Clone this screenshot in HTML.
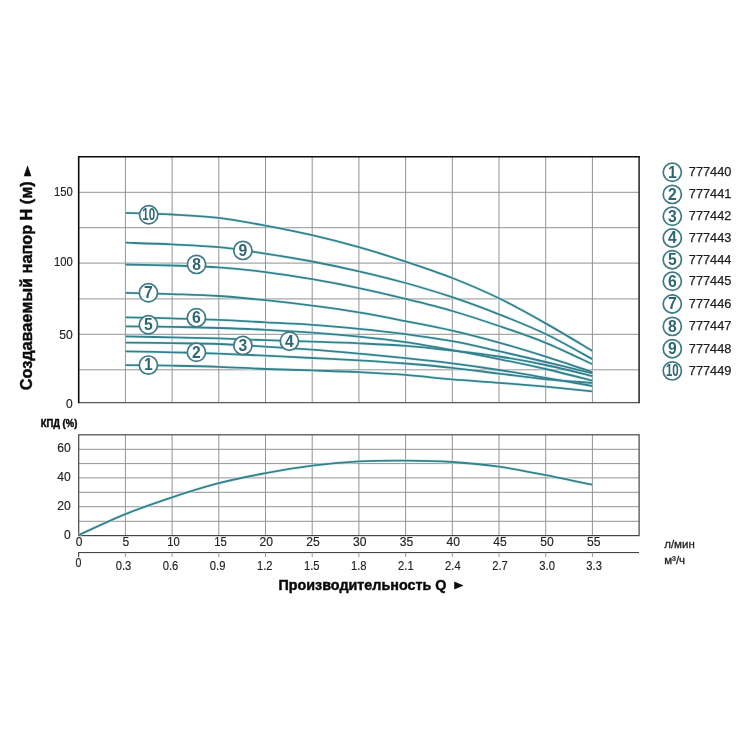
<!DOCTYPE html>
<html lang="ru"><head><meta charset="utf-8"><title>График</title>
<style>html,body{margin:0;padding:0;background:#fff}svg{display:block}text{font-family:"Liberation Sans",Arial,sans-serif;fill:#2a2a2a}.b{font-weight:bold;fill:#0a0a0a;stroke:#0a0a0a;stroke-width:.45px;stroke-linejoin:round}.c{font-weight:bold;fill:#2c6672;font-size:15.7px;text-anchor:middle}.n{font-size:12.5px;fill:#222;stroke:#222;stroke-width:.15px}.r{font-size:11.5px;stroke-width:.3px}.l{font-size:13.5px;fill:#1c1c1c;stroke:#1c1c1c;stroke-width:.25px}</style></head><body>
<svg width="750" height="750" viewBox="0 0 750 750">
<rect width="750" height="750" fill="#fff"/>
<g stroke="#939393" stroke-width="1" fill="none">
<line x1="125.4" y1="156.8" x2="125.4" y2="402.6"/>
<line x1="125.4" y1="434.8" x2="125.4" y2="535.6"/>
<line x1="172.1" y1="156.8" x2="172.1" y2="402.6"/>
<line x1="172.1" y1="434.8" x2="172.1" y2="535.6"/>
<line x1="218.8" y1="156.8" x2="218.8" y2="402.6"/>
<line x1="218.8" y1="434.8" x2="218.8" y2="535.6"/>
<line x1="265.5" y1="156.8" x2="265.5" y2="402.6"/>
<line x1="265.5" y1="434.8" x2="265.5" y2="535.6"/>
<line x1="312.2" y1="156.8" x2="312.2" y2="402.6"/>
<line x1="312.2" y1="434.8" x2="312.2" y2="535.6"/>
<line x1="358.9" y1="156.8" x2="358.9" y2="402.6"/>
<line x1="358.9" y1="434.8" x2="358.9" y2="535.6"/>
<line x1="405.6" y1="156.8" x2="405.6" y2="402.6"/>
<line x1="405.6" y1="434.8" x2="405.6" y2="535.6"/>
<line x1="452.3" y1="156.8" x2="452.3" y2="402.6"/>
<line x1="452.3" y1="434.8" x2="452.3" y2="535.6"/>
<line x1="499.0" y1="156.8" x2="499.0" y2="402.6"/>
<line x1="499.0" y1="434.8" x2="499.0" y2="535.6"/>
<line x1="545.7" y1="156.8" x2="545.7" y2="402.6"/>
<line x1="545.7" y1="434.8" x2="545.7" y2="535.6"/>
<line x1="592.4" y1="156.8" x2="592.4" y2="402.6"/>
<line x1="592.4" y1="434.8" x2="592.4" y2="535.6"/>
<line x1="78.7" y1="192.3" x2="639.1" y2="192.3"/>
<line x1="78.7" y1="227.7" x2="639.1" y2="227.7"/>
<line x1="78.7" y1="263.1" x2="639.1" y2="263.1"/>
<line x1="78.7" y1="298.9" x2="639.1" y2="298.9"/>
<line x1="78.7" y1="334.3" x2="639.1" y2="334.3"/>
<line x1="78.7" y1="369.8" x2="639.1" y2="369.8"/>
<line x1="78.7" y1="449.3" x2="639.1" y2="449.3"/>
<line x1="78.7" y1="463.6" x2="639.1" y2="463.6"/>
<line x1="78.7" y1="477.9" x2="639.1" y2="477.9"/>
<line x1="78.7" y1="492.3" x2="639.1" y2="492.3"/>
<line x1="78.7" y1="506.7" x2="639.1" y2="506.7"/>
<line x1="78.7" y1="521.3" x2="639.1" y2="521.3"/>
</g>
<path d="M78.7 402.6H639.1" fill="none" stroke="#5a5a5a" stroke-width="1.2"/>
<path d="M639.1 156.8V403.2" fill="none" stroke="#2e2e2e" stroke-width="1.6"/>
<path d="M78.7 403.2V156.8H639.9" fill="none" stroke="#0c0c0c" stroke-width="1.6" stroke-linejoin="miter"/>
<rect x="78.7" y="434.8" width="560.4" height="100.8" fill="none" stroke="#444" stroke-width="1.2"/>
<g stroke="#333" stroke-width="1" fill="none">
<line x1="78.2" y1="552.6" x2="639.1" y2="552.6"/>
<line x1="78.7" y1="552.6" x2="78.7" y2="557.2"/>
</g><g stroke="#999" stroke-width="1" fill="none">
<line x1="125.4" y1="552.6" x2="125.4" y2="557.0"/>
<line x1="172.1" y1="552.6" x2="172.1" y2="557.0"/>
<line x1="218.8" y1="552.6" x2="218.8" y2="557.0"/>
<line x1="265.5" y1="552.6" x2="265.5" y2="557.0"/>
<line x1="312.2" y1="552.6" x2="312.2" y2="557.0"/>
<line x1="358.9" y1="552.6" x2="358.9" y2="557.0"/>
<line x1="405.6" y1="552.6" x2="405.6" y2="557.0"/>
<line x1="452.3" y1="552.6" x2="452.3" y2="557.0"/>
<line x1="499.0" y1="552.6" x2="499.0" y2="557.0"/>
<line x1="545.7" y1="552.6" x2="545.7" y2="557.0"/>
<line x1="592.4" y1="552.6" x2="592.4" y2="557.0"/>
</g>
<g stroke="#c9f1f6" stroke-opacity="0.55" stroke-width="3.6" fill="none">
<path d="M125.40 212.80 C133.18 213.08 156.53 213.65 172.10 214.50 C187.67 215.35 203.23 216.05 218.80 217.90 C234.37 219.75 249.93 222.72 265.50 225.60 C281.07 228.48 296.63 231.60 312.20 235.20 C327.77 238.80 343.33 242.80 358.90 247.20 C374.47 251.60 390.03 256.47 405.60 261.60 C421.17 266.73 436.73 271.88 452.30 278.00 C467.87 284.12 483.43 290.73 499.00 298.30 C514.57 305.87 530.13 314.63 545.70 323.40 C561.27 332.17 584.62 346.32 592.40 350.90"/>
<path d="M125.40 242.70 C133.18 242.98 156.53 243.65 172.10 244.40 C187.67 245.15 203.23 245.67 218.80 247.20 C234.37 248.73 249.93 251.22 265.50 253.60 C281.07 255.98 296.63 258.55 312.20 261.50 C327.77 264.45 343.33 267.72 358.90 271.30 C374.47 274.88 390.03 278.68 405.60 283.00 C421.17 287.32 436.73 291.98 452.30 297.20 C467.87 302.42 483.43 308.17 499.00 314.30 C514.57 320.43 530.13 326.53 545.70 334.00 C561.27 341.47 584.62 354.92 592.40 359.10"/>
<path d="M125.40 264.50 C133.18 264.67 156.53 265.02 172.10 265.50 C187.67 265.98 203.23 266.30 218.80 267.40 C234.37 268.50 249.93 270.13 265.50 272.10 C281.07 274.07 296.63 276.53 312.20 279.20 C327.77 281.87 343.33 284.82 358.90 288.10 C374.47 291.38 390.03 295.08 405.60 298.90 C421.17 302.72 436.73 306.48 452.30 311.00 C467.87 315.52 483.43 320.70 499.00 326.00 C514.57 331.30 530.13 336.43 545.70 342.80 C561.27 349.17 584.62 360.63 592.40 364.20"/>
<path d="M125.40 292.80 C133.18 293.02 156.53 293.57 172.10 294.10 C187.67 294.63 203.23 294.98 218.80 296.00 C234.37 297.02 249.93 298.58 265.50 300.20 C281.07 301.82 296.63 303.67 312.20 305.70 C327.77 307.73 343.33 309.83 358.90 312.40 C374.47 314.97 390.03 318.07 405.60 321.10 C421.17 324.13 436.73 327.02 452.30 330.60 C467.87 334.18 483.43 338.27 499.00 342.60 C514.57 346.93 530.13 351.70 545.70 356.60 C561.27 361.50 584.62 369.43 592.40 372.00"/>
<path d="M125.40 317.30 C133.18 317.48 156.53 317.97 172.10 318.40 C187.67 318.83 203.23 319.23 218.80 319.90 C234.37 320.57 249.93 321.58 265.50 322.40 C281.07 323.22 296.63 323.73 312.20 324.80 C327.77 325.87 343.33 327.25 358.90 328.80 C374.47 330.35 390.03 332.03 405.60 334.10 C421.17 336.17 436.73 338.35 452.30 341.20 C467.87 344.05 483.43 347.73 499.00 351.20 C514.57 354.67 530.13 358.32 545.70 362.00 C561.27 365.68 584.62 371.42 592.40 373.30"/>
<path d="M125.40 326.30 C133.18 326.40 156.53 326.62 172.10 326.90 C187.67 327.18 203.23 327.52 218.80 328.00 C234.37 328.48 249.93 329.02 265.50 329.80 C281.07 330.58 296.63 331.55 312.20 332.70 C327.77 333.85 343.33 335.12 358.90 336.70 C374.47 338.28 390.03 339.97 405.60 342.20 C421.17 344.43 436.73 347.28 452.30 350.10 C467.87 352.92 483.43 355.95 499.00 359.10 C514.57 362.25 530.13 365.40 545.70 369.00 C561.27 372.60 584.62 378.75 592.40 380.70"/>
<path d="M125.40 336.30 C133.18 336.48 156.53 337.05 172.10 337.40 C187.67 337.75 203.23 337.93 218.80 338.40 C234.37 338.87 249.93 339.67 265.50 340.20 C281.07 340.73 296.63 341.08 312.20 341.60 C327.77 342.12 343.33 342.58 358.90 343.30 C374.47 344.02 390.03 344.68 405.60 345.90 C421.17 347.12 436.73 348.83 452.30 350.60 C467.87 352.37 483.43 354.10 499.00 356.50 C514.57 358.90 530.13 361.75 545.70 365.00 C561.27 368.25 584.62 374.17 592.40 376.00"/>
<path d="M125.40 342.70 C133.18 342.77 156.53 342.88 172.10 343.10 C187.67 343.32 203.23 343.40 218.80 344.00 C234.37 344.60 249.93 345.75 265.50 346.70 C281.07 347.65 296.63 348.55 312.20 349.70 C327.77 350.85 343.33 352.20 358.90 353.60 C374.47 355.00 390.03 356.47 405.60 358.10 C421.17 359.73 436.73 361.42 452.30 363.40 C467.87 365.38 483.43 367.60 499.00 370.00 C514.57 372.40 530.13 375.13 545.70 377.80 C561.27 380.47 584.62 384.63 592.40 386.00"/>
<path d="M125.40 351.40 C133.18 351.55 156.53 351.93 172.10 352.30 C187.67 352.67 203.23 353.03 218.80 353.60 C234.37 354.17 249.93 354.97 265.50 355.70 C281.07 356.43 296.63 357.22 312.20 358.00 C327.77 358.78 343.33 359.48 358.90 360.40 C374.47 361.32 390.03 362.27 405.60 363.50 C421.17 364.73 436.73 366.12 452.30 367.80 C467.87 369.48 483.43 371.68 499.00 373.60 C514.57 375.52 530.13 377.75 545.70 379.30 C561.27 380.85 584.62 382.30 592.40 382.90"/>
<path d="M125.40 365.10 C133.18 365.20 156.53 365.42 172.10 365.70 C187.67 365.98 203.23 366.25 218.80 366.80 C234.37 367.35 249.93 368.40 265.50 369.00 C281.07 369.60 296.63 369.88 312.20 370.40 C327.77 370.92 343.33 371.35 358.90 372.10 C374.47 372.85 390.03 373.68 405.60 374.90 C421.17 376.12 436.73 378.08 452.30 379.40 C467.87 380.72 483.43 381.58 499.00 382.80 C514.57 384.02 530.13 385.28 545.70 386.70 C561.27 388.12 584.62 390.53 592.40 391.30"/>
<path d="M78.70 535.00 C86.48 531.52 109.83 520.38 125.40 514.10 C140.97 507.82 156.53 502.45 172.10 497.30 C187.67 492.15 203.23 487.22 218.80 483.20 C234.37 479.18 249.93 476.13 265.50 473.20 C281.07 470.27 296.63 467.57 312.20 465.60 C327.77 463.63 343.33 462.23 358.90 461.40 C374.47 460.57 390.03 460.50 405.60 460.60 C421.17 460.70 436.73 460.98 452.30 462.00 C467.87 463.02 483.43 464.50 499.00 466.70 C514.57 468.90 530.13 472.18 545.70 475.20 C561.27 478.22 584.62 483.20 592.40 484.80"/>
</g>
<g stroke="#37808b" stroke-width="1.8" fill="none" stroke-linecap="butt">
<path d="M125.40 212.80 C133.18 213.08 156.53 213.65 172.10 214.50 C187.67 215.35 203.23 216.05 218.80 217.90 C234.37 219.75 249.93 222.72 265.50 225.60 C281.07 228.48 296.63 231.60 312.20 235.20 C327.77 238.80 343.33 242.80 358.90 247.20 C374.47 251.60 390.03 256.47 405.60 261.60 C421.17 266.73 436.73 271.88 452.30 278.00 C467.87 284.12 483.43 290.73 499.00 298.30 C514.57 305.87 530.13 314.63 545.70 323.40 C561.27 332.17 584.62 346.32 592.40 350.90"/>
<path d="M125.40 242.70 C133.18 242.98 156.53 243.65 172.10 244.40 C187.67 245.15 203.23 245.67 218.80 247.20 C234.37 248.73 249.93 251.22 265.50 253.60 C281.07 255.98 296.63 258.55 312.20 261.50 C327.77 264.45 343.33 267.72 358.90 271.30 C374.47 274.88 390.03 278.68 405.60 283.00 C421.17 287.32 436.73 291.98 452.30 297.20 C467.87 302.42 483.43 308.17 499.00 314.30 C514.57 320.43 530.13 326.53 545.70 334.00 C561.27 341.47 584.62 354.92 592.40 359.10"/>
<path d="M125.40 264.50 C133.18 264.67 156.53 265.02 172.10 265.50 C187.67 265.98 203.23 266.30 218.80 267.40 C234.37 268.50 249.93 270.13 265.50 272.10 C281.07 274.07 296.63 276.53 312.20 279.20 C327.77 281.87 343.33 284.82 358.90 288.10 C374.47 291.38 390.03 295.08 405.60 298.90 C421.17 302.72 436.73 306.48 452.30 311.00 C467.87 315.52 483.43 320.70 499.00 326.00 C514.57 331.30 530.13 336.43 545.70 342.80 C561.27 349.17 584.62 360.63 592.40 364.20"/>
<path d="M125.40 292.80 C133.18 293.02 156.53 293.57 172.10 294.10 C187.67 294.63 203.23 294.98 218.80 296.00 C234.37 297.02 249.93 298.58 265.50 300.20 C281.07 301.82 296.63 303.67 312.20 305.70 C327.77 307.73 343.33 309.83 358.90 312.40 C374.47 314.97 390.03 318.07 405.60 321.10 C421.17 324.13 436.73 327.02 452.30 330.60 C467.87 334.18 483.43 338.27 499.00 342.60 C514.57 346.93 530.13 351.70 545.70 356.60 C561.27 361.50 584.62 369.43 592.40 372.00"/>
<path d="M125.40 317.30 C133.18 317.48 156.53 317.97 172.10 318.40 C187.67 318.83 203.23 319.23 218.80 319.90 C234.37 320.57 249.93 321.58 265.50 322.40 C281.07 323.22 296.63 323.73 312.20 324.80 C327.77 325.87 343.33 327.25 358.90 328.80 C374.47 330.35 390.03 332.03 405.60 334.10 C421.17 336.17 436.73 338.35 452.30 341.20 C467.87 344.05 483.43 347.73 499.00 351.20 C514.57 354.67 530.13 358.32 545.70 362.00 C561.27 365.68 584.62 371.42 592.40 373.30"/>
<path d="M125.40 326.30 C133.18 326.40 156.53 326.62 172.10 326.90 C187.67 327.18 203.23 327.52 218.80 328.00 C234.37 328.48 249.93 329.02 265.50 329.80 C281.07 330.58 296.63 331.55 312.20 332.70 C327.77 333.85 343.33 335.12 358.90 336.70 C374.47 338.28 390.03 339.97 405.60 342.20 C421.17 344.43 436.73 347.28 452.30 350.10 C467.87 352.92 483.43 355.95 499.00 359.10 C514.57 362.25 530.13 365.40 545.70 369.00 C561.27 372.60 584.62 378.75 592.40 380.70"/>
<path d="M125.40 336.30 C133.18 336.48 156.53 337.05 172.10 337.40 C187.67 337.75 203.23 337.93 218.80 338.40 C234.37 338.87 249.93 339.67 265.50 340.20 C281.07 340.73 296.63 341.08 312.20 341.60 C327.77 342.12 343.33 342.58 358.90 343.30 C374.47 344.02 390.03 344.68 405.60 345.90 C421.17 347.12 436.73 348.83 452.30 350.60 C467.87 352.37 483.43 354.10 499.00 356.50 C514.57 358.90 530.13 361.75 545.70 365.00 C561.27 368.25 584.62 374.17 592.40 376.00"/>
<path d="M125.40 342.70 C133.18 342.77 156.53 342.88 172.10 343.10 C187.67 343.32 203.23 343.40 218.80 344.00 C234.37 344.60 249.93 345.75 265.50 346.70 C281.07 347.65 296.63 348.55 312.20 349.70 C327.77 350.85 343.33 352.20 358.90 353.60 C374.47 355.00 390.03 356.47 405.60 358.10 C421.17 359.73 436.73 361.42 452.30 363.40 C467.87 365.38 483.43 367.60 499.00 370.00 C514.57 372.40 530.13 375.13 545.70 377.80 C561.27 380.47 584.62 384.63 592.40 386.00"/>
<path d="M125.40 351.40 C133.18 351.55 156.53 351.93 172.10 352.30 C187.67 352.67 203.23 353.03 218.80 353.60 C234.37 354.17 249.93 354.97 265.50 355.70 C281.07 356.43 296.63 357.22 312.20 358.00 C327.77 358.78 343.33 359.48 358.90 360.40 C374.47 361.32 390.03 362.27 405.60 363.50 C421.17 364.73 436.73 366.12 452.30 367.80 C467.87 369.48 483.43 371.68 499.00 373.60 C514.57 375.52 530.13 377.75 545.70 379.30 C561.27 380.85 584.62 382.30 592.40 382.90"/>
<path d="M125.40 365.10 C133.18 365.20 156.53 365.42 172.10 365.70 C187.67 365.98 203.23 366.25 218.80 366.80 C234.37 367.35 249.93 368.40 265.50 369.00 C281.07 369.60 296.63 369.88 312.20 370.40 C327.77 370.92 343.33 371.35 358.90 372.10 C374.47 372.85 390.03 373.68 405.60 374.90 C421.17 376.12 436.73 378.08 452.30 379.40 C467.87 380.72 483.43 381.58 499.00 382.80 C514.57 384.02 530.13 385.28 545.70 386.70 C561.27 388.12 584.62 390.53 592.40 391.30"/>
<path d="M78.70 535.00 C86.48 531.52 109.83 520.38 125.40 514.10 C140.97 507.82 156.53 502.45 172.10 497.30 C187.67 492.15 203.23 487.22 218.80 483.20 C234.37 479.18 249.93 476.13 265.50 473.20 C281.07 470.27 296.63 467.57 312.20 465.60 C327.77 463.63 343.33 462.23 358.90 461.40 C374.47 460.57 390.03 460.50 405.60 460.60 C421.17 460.70 436.73 460.98 452.30 462.00 C467.87 463.02 483.43 464.50 499.00 466.70 C514.57 468.90 530.13 472.18 545.70 475.20 C561.27 478.22 584.62 483.20 592.40 484.80"/>
</g>
<circle cx="148.7" cy="214.8" r="9.1" fill="#fff" stroke="#3d7a85" stroke-width="1.7"/>
<text class="c" x="148.7" y="220.1" textLength="12.8" lengthAdjust="spacingAndGlyphs">10</text>
<circle cx="242.9" cy="250.4" r="9.1" fill="#fff" stroke="#3d7a85" stroke-width="1.7"/>
<text class="c" x="242.9" y="255.7">9</text>
<circle cx="196.5" cy="264.4" r="9.1" fill="#fff" stroke="#3d7a85" stroke-width="1.7"/>
<text class="c" x="196.5" y="269.7">8</text>
<circle cx="148.4" cy="292.8" r="9.1" fill="#fff" stroke="#3d7a85" stroke-width="1.7"/>
<text class="c" x="148.4" y="298.1">7</text>
<circle cx="196.4" cy="317.7" r="9.1" fill="#fff" stroke="#3d7a85" stroke-width="1.7"/>
<text class="c" x="196.4" y="323.0">6</text>
<circle cx="148.4" cy="324.8" r="9.1" fill="#fff" stroke="#3d7a85" stroke-width="1.7"/>
<text class="c" x="148.4" y="330.1">5</text>
<circle cx="289.4" cy="341.2" r="9.1" fill="#fff" stroke="#3d7a85" stroke-width="1.7"/>
<text class="c" x="289.4" y="346.5">4</text>
<circle cx="242.9" cy="345.5" r="9.1" fill="#fff" stroke="#3d7a85" stroke-width="1.7"/>
<text class="c" x="242.9" y="350.8">3</text>
<circle cx="196.4" cy="352.3" r="9.1" fill="#fff" stroke="#3d7a85" stroke-width="1.7"/>
<text class="c" x="196.4" y="357.6">2</text>
<circle cx="148.4" cy="365.1" r="9.1" fill="#fff" stroke="#3d7a85" stroke-width="1.7"/>
<text class="c" x="148.4" y="370.4">1</text>
<circle cx="672.3" cy="172.3" r="9.1" fill="#fff" stroke="#3d7a85" stroke-width="1.7"/>
<text class="c" x="672.3" y="177.6">1</text>
<text class="l" x="688.8" y="176.3" textLength="42.6" lengthAdjust="spacingAndGlyphs">777440</text>
<circle cx="672.3" cy="194.4" r="9.1" fill="#fff" stroke="#3d7a85" stroke-width="1.7"/>
<text class="c" x="672.3" y="199.7">2</text>
<text class="l" x="688.8" y="198.4" textLength="42.6" lengthAdjust="spacingAndGlyphs">777441</text>
<circle cx="672.3" cy="216.3" r="9.1" fill="#fff" stroke="#3d7a85" stroke-width="1.7"/>
<text class="c" x="672.3" y="221.6">3</text>
<text class="l" x="688.8" y="220.3" textLength="42.6" lengthAdjust="spacingAndGlyphs">777442</text>
<circle cx="672.3" cy="238.0" r="9.1" fill="#fff" stroke="#3d7a85" stroke-width="1.7"/>
<text class="c" x="672.3" y="243.3">4</text>
<text class="l" x="688.8" y="242.0" textLength="42.6" lengthAdjust="spacingAndGlyphs">777443</text>
<circle cx="672.3" cy="259.7" r="9.1" fill="#fff" stroke="#3d7a85" stroke-width="1.7"/>
<text class="c" x="672.3" y="265.0">5</text>
<text class="l" x="688.8" y="263.7" textLength="42.6" lengthAdjust="spacingAndGlyphs">777444</text>
<circle cx="672.3" cy="281.3" r="9.1" fill="#fff" stroke="#3d7a85" stroke-width="1.7"/>
<text class="c" x="672.3" y="286.6">6</text>
<text class="l" x="688.8" y="285.3" textLength="42.6" lengthAdjust="spacingAndGlyphs">777445</text>
<circle cx="672.3" cy="304.0" r="9.1" fill="#fff" stroke="#3d7a85" stroke-width="1.7"/>
<text class="c" x="672.3" y="309.3">7</text>
<text class="l" x="688.8" y="308.0" textLength="42.6" lengthAdjust="spacingAndGlyphs">777446</text>
<circle cx="672.3" cy="326.4" r="9.1" fill="#fff" stroke="#3d7a85" stroke-width="1.7"/>
<text class="c" x="672.3" y="331.7">8</text>
<text class="l" x="688.8" y="330.4" textLength="42.6" lengthAdjust="spacingAndGlyphs">777447</text>
<circle cx="672.3" cy="348.7" r="9.1" fill="#fff" stroke="#3d7a85" stroke-width="1.7"/>
<text class="c" x="672.3" y="354.0">9</text>
<text class="l" x="688.8" y="352.7" textLength="42.6" lengthAdjust="spacingAndGlyphs">777448</text>
<circle cx="672.3" cy="370.9" r="9.1" fill="#fff" stroke="#3d7a85" stroke-width="1.7"/>
<text class="c" x="672.3" y="376.2" textLength="12.8" lengthAdjust="spacingAndGlyphs">10</text>
<text class="l" x="688.8" y="374.9" textLength="42.6" lengthAdjust="spacingAndGlyphs">777449</text>
<text class="n" x="72.8" y="196.3" text-anchor="end" textLength="18.8" lengthAdjust="spacingAndGlyphs">150</text>
<text class="n" x="72.8" y="265.5" text-anchor="end" textLength="18.8" lengthAdjust="spacingAndGlyphs">100</text>
<text class="n" x="72.8" y="338.5" text-anchor="end" textLength="13.5" lengthAdjust="spacingAndGlyphs">50</text>
<text class="n" x="72.8" y="407.7" text-anchor="end" textLength="6.7" lengthAdjust="spacingAndGlyphs">0</text>
<text class="n" x="70.8" y="451.9" text-anchor="end" textLength="13.5" lengthAdjust="spacingAndGlyphs">60</text>
<text class="n" x="70.8" y="481.0" text-anchor="end" textLength="13.5" lengthAdjust="spacingAndGlyphs">40</text>
<text class="n" x="70.8" y="510.3" text-anchor="end" textLength="13.5" lengthAdjust="spacingAndGlyphs">20</text>
<text class="n" x="70.8" y="539.2" text-anchor="end" textLength="6.7" lengthAdjust="spacingAndGlyphs">0</text>
<text class="n" x="79.0" y="546.2" text-anchor="middle" textLength="6.7" lengthAdjust="spacingAndGlyphs">0</text>
<text class="n" x="125.8" y="546.2" text-anchor="middle" textLength="6.7" lengthAdjust="spacingAndGlyphs">5</text>
<text class="n" x="173.6" y="546.2" text-anchor="middle" textLength="12.5" lengthAdjust="spacingAndGlyphs">10</text>
<text class="n" x="220.4" y="546.2" text-anchor="middle" textLength="12.5" lengthAdjust="spacingAndGlyphs">15</text>
<text class="n" x="266.2" y="546.2" text-anchor="middle" textLength="13.5" lengthAdjust="spacingAndGlyphs">20</text>
<text class="n" x="312.9" y="546.2" text-anchor="middle" textLength="13.5" lengthAdjust="spacingAndGlyphs">25</text>
<text class="n" x="359.7" y="546.2" text-anchor="middle" textLength="13.5" lengthAdjust="spacingAndGlyphs">30</text>
<text class="n" x="406.5" y="546.2" text-anchor="middle" textLength="13.5" lengthAdjust="spacingAndGlyphs">35</text>
<text class="n" x="453.3" y="546.2" text-anchor="middle" textLength="13.5" lengthAdjust="spacingAndGlyphs">40</text>
<text class="n" x="500.1" y="546.2" text-anchor="middle" textLength="13.5" lengthAdjust="spacingAndGlyphs">45</text>
<text class="n" x="546.9" y="546.2" text-anchor="middle" textLength="13.5" lengthAdjust="spacingAndGlyphs">50</text>
<text class="n" x="593.7" y="546.2" text-anchor="middle" textLength="13.5" lengthAdjust="spacingAndGlyphs">55</text>
<text class="n" x="78.5" y="567.1" text-anchor="middle" textLength="5.9" lengthAdjust="spacingAndGlyphs">0</text>
<text class="n" x="123.5" y="569.8" text-anchor="middle" textLength="15.6" lengthAdjust="spacingAndGlyphs">0.3</text>
<text class="n" x="170.5" y="569.8" text-anchor="middle" textLength="15.6" lengthAdjust="spacingAndGlyphs">0.6</text>
<text class="n" x="217.6" y="569.8" text-anchor="middle" textLength="15.6" lengthAdjust="spacingAndGlyphs">0.9</text>
<text class="n" x="264.7" y="569.8" text-anchor="middle" textLength="15.6" lengthAdjust="spacingAndGlyphs">1.2</text>
<text class="n" x="311.7" y="569.8" text-anchor="middle" textLength="15.6" lengthAdjust="spacingAndGlyphs">1.5</text>
<text class="n" x="358.8" y="569.8" text-anchor="middle" textLength="15.6" lengthAdjust="spacingAndGlyphs">1.8</text>
<text class="n" x="405.9" y="569.8" text-anchor="middle" textLength="15.6" lengthAdjust="spacingAndGlyphs">2.1</text>
<text class="n" x="452.9" y="569.8" text-anchor="middle" textLength="15.6" lengthAdjust="spacingAndGlyphs">2.4</text>
<text class="n" x="500.0" y="569.8" text-anchor="middle" textLength="15.6" lengthAdjust="spacingAndGlyphs">2.7</text>
<text class="n" x="547.1" y="569.8" text-anchor="middle" textLength="15.6" lengthAdjust="spacingAndGlyphs">3.0</text>
<text class="n" x="594.1" y="569.8" text-anchor="middle" textLength="15.6" lengthAdjust="spacingAndGlyphs">3.3</text>
<text class="n r" x="664.2" y="547.6">л/мин</text>
<text class="n r" x="664.2" y="564.3">м³/ч</text>
<text class="b" x="40.7" y="427" style="font-size:10px" textLength="36.6" lengthAdjust="spacingAndGlyphs">КПД (%)</text>
<text class="b" x="278.5" y="589.6" style="font-size:14.3px" textLength="167.9" lengthAdjust="spacingAndGlyphs">Производительность Q</text>
<text class="b" transform="translate(451.6 589.0) scale(0.9 0.76)" style="font-size:16.2px">►</text>
<text class="b" transform="translate(32 390.3) rotate(-90)" style="font-size:16.2px" textLength="209" lengthAdjust="spacingAndGlyphs">Создаваемый напор H (м)</text>
<text class="b" transform="translate(31.1 179.6) rotate(-90) scale(1.0 0.7)" style="font-size:17.3px">►</text>
</svg></body></html>
